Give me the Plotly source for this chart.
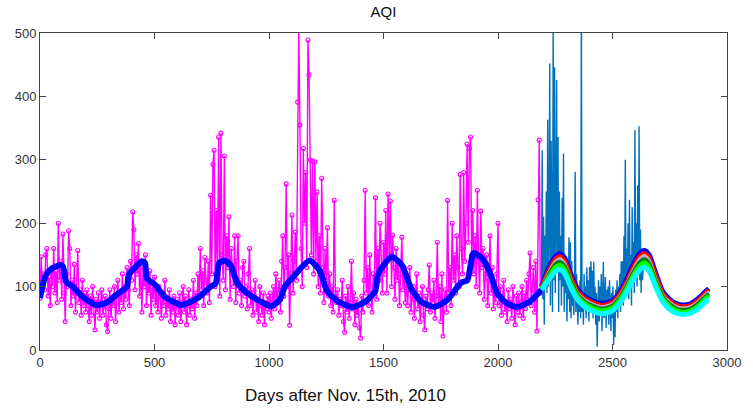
import numpy as np
import plotly.graph_objects as go

# ---------------- data ----------------
# observed daily AQI (sampled every 5 days), days 0..2185
obs_step = 5
obs_vals = (
    [82, 147, 100, 120, 95, 150, 160, 85, 115, 70, 130, 100, 160, 90, 125, 75, 200, 110, 140, 80]
    + [183, 90, 45, 120, 100, 188, 160, 70, 110, 85, 135, 60, 100, 157, 75, 95, 55, 110, 70, 90]
    + [60, 95, 70, 45, 85, 55, 100, 70, 32, 80, 60, 90, 50, 75, 95, 55, 70, 85, 40, 29]
    + [65, 95, 50, 80, 70, 100, 45, 85, 110, 60, 90, 75, 120, 65, 100, 80, 130, 95, 70, 140]
    + [110, 218, 190, 95, 150, 120, 168, 85, 140, 60, 130, 100, 150, 70, 110, 90, 125, 55, 100, 80]
    + [115, 70, 95, 60, 100, 85, 50, 90, 70, 110, 55, 80, 65, 95, 45, 75, 60, 85, 40, 70]
    + [80, 55, 90, 45, 75, 100, 60, 85, 40, 70, 95, 55, 80, 65, 110, 50, 90, 70, 120, 85]
    + [160, 95, 125, 70, 146, 110, 90, 140, 75, 244, 120, 293, 315, 100, 220, 130, 336, 85, 342, 150]
    + [110, 306, 95, 180, 130, 210, 80, 160, 120, 100, 180, 75, 140, 180, 90, 110, 70, 130, 140, 85]
    + [100, 65, 120, 160, 70, 95, 55, 85, 110, 60, 80, 45, 100, 70, 55, 90, 40, 75, 65, 85]
    + [60, 90, 50, 80, 100, 65, 120, 75, 95, 110, 60, 140, 180, 85, 130, 262, 100, 150, 39, 120]
    + [213, 90, 140, 186, 110, 391, 510, 355, 160, 100, 318, 200, 280, 130, 489, 434, 300, 150, 298, 120]
    + [297, 140, 249, 100, 180, 90, 271, 130, 75, 160, 110, 193, 85, 120, 70, 100, 60, 236, 90, 75]
    + [95, 55, 80, 70, 110, 45, 28, 85, 60, 100, 50, 75, 140, 65, 90, 40, 80, 55, 70, 35]
    + [19, 85, 60, 110, 252, 90, 130, 70, 150, 95, 60, 120, 100, 240, 80, 160, 110, 200, 130, 90]
    + [170, 120, 220, 90, 246, 150, 235, 100, 181, 130, 80, 160, 110, 140, 70, 120, 178, 95, 130, 75]
    + [110, 70, 95, 130, 60, 85, 100, 50, 80, 120, 65, 90, 45, 75, 100, 55, 32, 85, 65, 95]
    + [134, 60, 90, 75, 110, 50, 85, 170, 70, 100, 45, 120, 22, 80, 95, 60, 236, 90, 130, 70]
    + [200, 110, 150, 90, 180, 130, 100, 277, 160, 120, 280, 140, 200, 325, 170, 318, 336, 150, 220, 120]
    + [180, 100, 252, 140, 90, 219, 130, 160, 80, 120, 150, 70, 110, 180, 90, 130, 65, 100, 75, 120]
    + [200, 70, 100, 55, 85, 110, 60, 75, 45, 95, 65, 80, 50, 100, 70, 40, 85, 60, 90, 55]
    + [75, 100, 50, 90, 65, 110, 80, 120, 153, 70, 95, 130, 60, 140, 30, 237, 331, 90]
)
obs_days = np.arange(len(obs_vals)) * obs_step

# smoothed trend of observed period
trend_days = [0, 22, 43, 86, 100, 115, 143, 186, 245, 288, 330, 360, 380, 387, 417, 445, 459, 466,
              502, 545, 617, 689, 745, 767, 782, 804, 832, 861, 904, 976, 1010, 1047, 1069, 1105,
              1177, 1220, 1255, 1305, 1364, 1420, 1463, 1478, 1536, 1580, 1623, 1666, 1722, 1779,
              1838, 1866, 1894, 1937, 1972, 1995, 2037, 2080, 2138, 2190]
trend_vals = [82, 115, 126, 134, 132, 107, 100, 84, 71, 74, 86, 94, 100, 118, 131, 140, 137, 113,
              103, 84, 71, 82, 100, 105, 137, 141, 134, 106, 90, 74, 69, 79, 100, 115,
              141, 126, 92, 76, 68, 76, 92, 121, 147, 134, 95, 76, 68, 79,
              106, 110, 153, 142, 115, 90, 74, 68, 76, 95]

# later observed daily AQI (sampled every 3 days), days 2190..2634
late_start = 2190
late_step = 3
late_vals = [95, 315, 80, 210, 40, 180, 120, 250, 90, 363, 100, 200, 452, 70, 330, 150, 60, 520,
             110, 446, 90, 200, 426, 130, 336, 60, 250, 110, 180, 70, 240, 100, 310, 60, 150, 90,
             120, 45, 130, 80, 178, 60, 170, 50, 140, 70, 110, 55, 100, 281, 60, 120, 80, 40,
             90, 60, 110, 50, 540, 60, 90, 40, 120, 65, 100, 50, 130, 70, 110, 45, 131, 60,
             140, 80, 125, 50, 139, 70, 100, 40, 90, 5, 80, 110, 45, 100, 60, 120, 30, 90,
             139, 50, 80, 115, 35, 95, 60, 100, 40, 110, 70, 30, 90, 50, 100, 8, 80, 20,
             95, 60, 110, 50, 100, 70, 120, 60, 140, 80, 140, 70, 180, 100, 300, 90, 160, 110,
             200, 80, 237, 100, 150, 70, 225, 110, 170, 90, 347, 130, 200, 100, 260, 120, 353, 110,
             190, 90, 160, 110, 130]
late_days = late_start + np.arange(len(late_vals)) * late_step

# model forecasts
fc_days = [2190, 2220, 2250, 2270, 2290, 2320, 2350, 2380, 2410, 2440, 2470, 2500, 2530, 2560,
           2590, 2620, 2640, 2660, 2690, 2720, 2750, 2780, 2810, 2840, 2870, 2900, 2920]
fc_blue = [100, 128, 148, 152, 146, 118, 95, 84, 78, 74, 74, 78, 90, 110, 135, 153, 157, 150, 120, 92, 80, 73, 71, 73, 80, 90, 97]
fc_red = [99, 125, 144, 148, 142, 115, 92, 82, 76, 72, 72, 76, 88, 107, 131, 149, 153, 146, 117, 90, 78, 71, 69, 71, 78, 88, 95]
fc_yellow = [98, 123, 141, 145, 139, 112, 90, 80, 74, 70, 70, 74, 86, 105, 128, 146, 150, 143, 114, 88, 76, 69, 67, 69, 76, 86, 93]
fc_lavender = [98, 121, 139, 143, 137, 110, 89, 79, 73, 69, 69, 73, 85, 103, 126, 144, 148, 141, 112, 87, 75, 68, 66, 68, 75, 85, 92]
fc_dkgreen = [97, 118, 135, 139, 133, 107, 86, 76, 70, 66, 66, 70, 82, 100, 122, 139, 143, 136, 108, 84, 72, 65, 63, 65, 72, 82, 89]
fc_lime = [96, 115, 131, 134, 128, 103, 83, 73, 67, 63, 63, 67, 79, 96, 118, 134, 138, 131, 104, 81, 69, 62, 60, 62, 69, 79, 86]
fc_cyan = [95, 110, 124, 127, 121, 97, 78, 68, 62, 58, 58, 62, 73, 90, 111, 127, 130, 124, 98, 76, 64, 58, 56, 58, 64, 74, 80]

x_ticks = [0, 500, 1000, 1500, 2000, 2500, 3000]
y_ticks = [0, 100, 200, 300, 400, 500]
x_label = "Days after Nov. 15th, 2010"
title_text = "AQI"

FONT = "Liberation Sans, Arial"

# ---------------- figure ----------------
fig = go.Figure()
fig.add_trace(go.Scatter(x=obs_days, y=obs_vals, mode="lines+markers",
                         line=dict(color="#ff00ff", width=1.4),
                         marker=dict(symbol="circle-open", size=4, color="#ff00ff", line=dict(width=1.1)),
                         showlegend=False))
fig.add_trace(go.Scatter(x=trend_days, y=trend_vals, mode="lines",
                         line=dict(color="#0000ff", width=6, shape="spline", smoothing=0.6),
                         showlegend=False))
fig.add_trace(go.Scatter(x=late_days, y=late_vals, mode="lines",
                         line=dict(color="#0072BD", width=1.4), showlegend=False))

fc_series = [(fc_blue, "#0000ff", 5), (fc_red, "#ff0000", 4), (fc_yellow, "#EDB120", 2),
             (fc_lavender, "#c9a0dc", 3), (fc_dkgreen, "#008000", 4), (fc_lime, "#00ff00", 4),
             (fc_cyan, "#00ffff", 5)]
for vals, col, w in fc_series:
    fig.add_trace(go.Scatter(x=fc_days, y=vals, mode="lines",
                             line=dict(color=col, width=w, shape="spline", smoothing=0.8),
                             showlegend=False))

axis_common = dict(showgrid=False, zeroline=False, showline=True, linecolor="#444444", linewidth=1,
                   mirror="ticks", ticks="inside", ticklen=6, tickcolor="#444444",
                   tickfont=dict(family=FONT, size=13, color="#333333"))
fig.update_xaxes(range=[0, 3000], tickvals=x_ticks, ticktext=[str(v) for v in x_ticks], **axis_common)
fig.update_yaxes(range=[0, 500], tickvals=y_ticks, ticktext=[str(v) for v in y_ticks], **axis_common)
fig.add_annotation(text=x_label, xref="paper", yref="paper", x=0.445, y=-0.142,
                   xanchor="center", yanchor="middle", showarrow=False,
                   font=dict(family=FONT, size=17, color="#111111"))
fig.update_layout(width=753, height=408, margin=dict(l=40, r=16, t=33, b=58),
                  paper_bgcolor="white", plot_bgcolor="white",
                  title=dict(text=title_text, x=0.5, xref="paper", xanchor="center", y=0.985, yanchor="top",
                             font=dict(family=FONT, size=15, color="#111111")))
fig.write_html("out.html")
